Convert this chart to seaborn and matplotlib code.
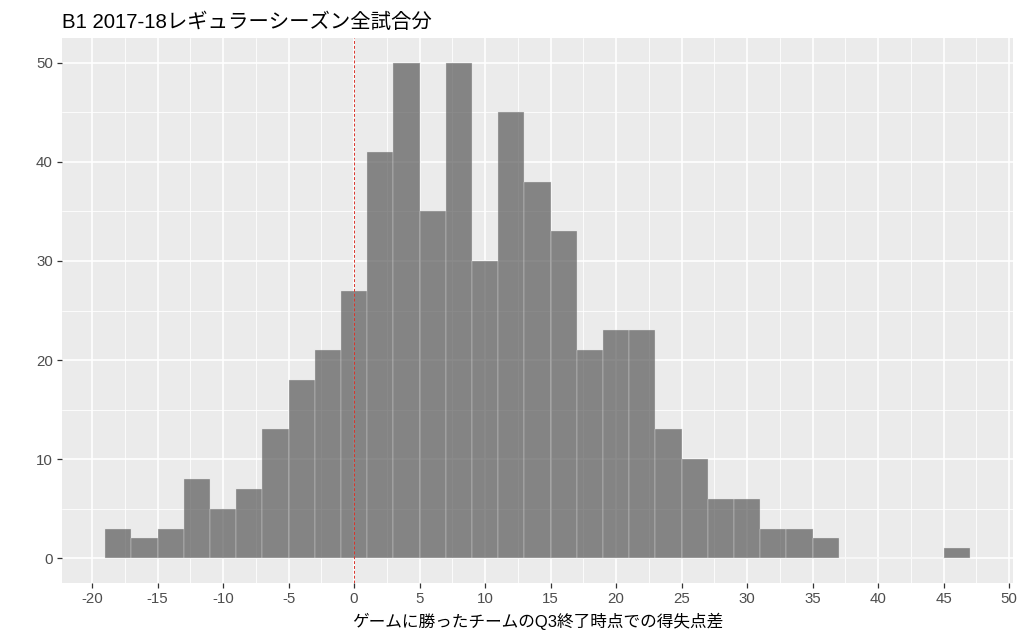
import matplotlib
matplotlib.use("Agg")
import pandas as pd
import matplotlib.pyplot as plt
import matplotlib.ticker as mticker
import seaborn as sns

# ビン（幅2）の左端と度数
bin_edges = [-19, -17, -15, -13, -11, -9, -7, -5, -3, -1, 1, 3, 5, 7, 9, 11, 13,
             15, 17, 19, 21, 23, 25, 27, 29, 31, 33, 35, 37, 39, 41, 43, 45, 47]
counts = [3, 2, 3, 8, 5, 7, 13, 18, 21, 27, 41, 50, 35, 50, 30, 45, 38,
          33, 21, 23, 23, 13, 10, 6, 6, 3, 3, 2, 0, 0, 0, 0, 1]
x_ticks = [-20, -15, -10, -5, 0, 5, 10, 15, 20, 25, 30, 35, 40, 45, 50]
y_ticks = [0, 10, 20, 30, 40, 50]

title = "B1 2017-18レギュラーシーズン全試合分"
xlabel = "ゲームに勝ったチームのQ3終了時点での得失点差"

centers = [(a + b) / 2 for a, b in zip(bin_edges[:-1], bin_edges[1:])]
df = pd.DataFrame({"diff": centers, "n": counts})

sns.set_theme(style="darkgrid", rc={
    "axes.facecolor": "#EBEBEB",
    "grid.color": "white",
    "axes.edgecolor": "#EBEBEB",
})
plt.rcParams["font.family"] = ["Liberation Sans", "Noto Sans CJK JP", "DejaVu Sans"]
plt.rcParams["axes.unicode_minus"] = False

fig = plt.figure(figsize=(10.24, 6.4), dpi=100)
ax = fig.add_axes([62 / 1024, 57 / 640, 951 / 1024, 545 / 640])

sns.histplot(data=df, x="diff", weights="n", bins=bin_edges, color="#595959",
             alpha=0.7, edgecolor="#E0E0E0", linewidth=0.25, ax=ax)
ax.axvline(0, color="#D9342B", linestyle=(0, (3, 2)), linewidth=0.7)

ax.set_xlim(-22.3, 50.3)
ax.set_ylim(-2.5, 52.5)
ax.set_xticks(x_ticks)
ax.set_yticks(y_ticks)
ax.xaxis.set_minor_locator(mticker.FixedLocator([t + 2.5 for t in x_ticks[:-1]]))
ax.yaxis.set_minor_locator(mticker.FixedLocator([t + 5 for t in y_ticks[:-1]]))
ax.grid(which="major", color="white", linewidth=1.2)
ax.grid(which="minor", color="white", linewidth=0.6)
ax.set_axisbelow(True)
for s in ax.spines.values():
    s.set_visible(False)

ax.tick_params(axis="both", which="major", length=3.5, width=0.9, color="#333333",
               labelcolor="#4D4D4D", labelsize=10.8, pad=3, bottom=True, left=True)
ax.tick_params(axis="both", which="minor", length=0)

ax.set_ylabel("")
ax.set_xlabel(xlabel, fontsize=12, color="black", labelpad=5)
fig.text(62 / 1024, 1 - 28 / 640, title, fontsize=14.7, color="black",
         ha="left", va="baseline")

fig.savefig("out.png", dpi=100)
